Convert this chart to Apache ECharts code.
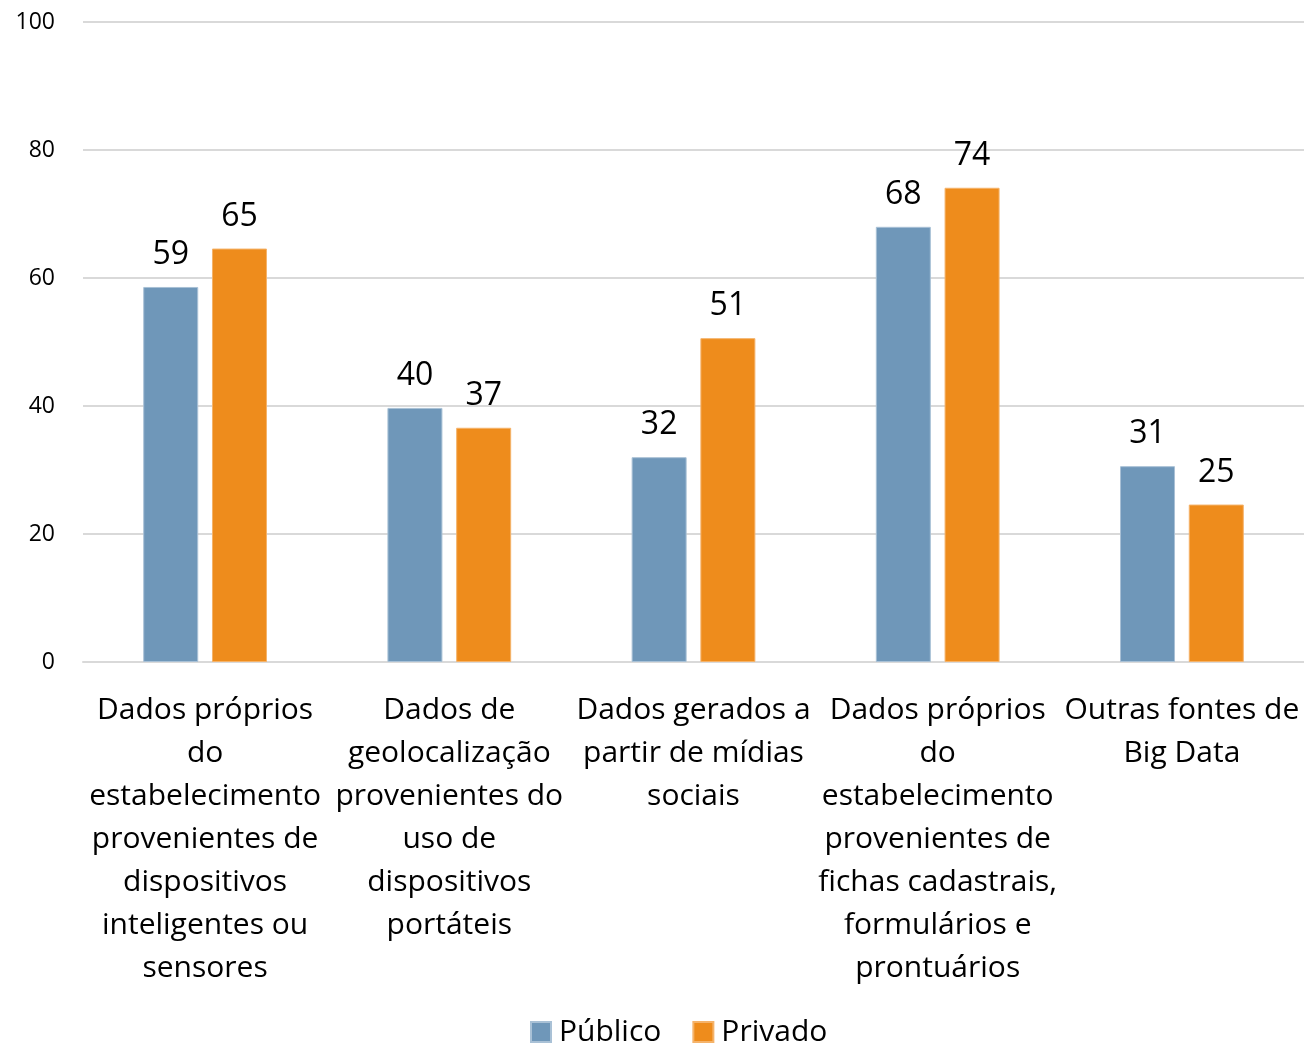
<!DOCTYPE html>
<html><head><meta charset="utf-8">
<script src="https://cdn.jsdelivr.net/npm/echarts@6/dist/echarts.min.js"></script>
<style>html,body{margin:0;padding:0;background:#fff}#c{width:1304px;height:1044px}</style>
</head><body><div id="c"></div>
<script>
const categories = [
  "Dados próprios\ndo\nestabelecimento\nprovenientes de\ndispositivos\ninteligentes ou\nsensores",
  "Dados de\ngeolocalização\nprovenientes do\nuso de\ndispositivos\nportáteis",
  "Dados gerados a\npartir de mídias\nsociais",
  "Dados próprios\ndo\nestabelecimento\nprovenientes de\nfichas cadastrais,\nformulários e\nprontuários",
  "Outras fontes de\nBig Data"
];
const publico = [58.6, 39.7, 32.0, 68.0, 30.6];
const privado = [64.6, 36.6, 50.6, 74.1, 24.6];
const seriesNames = ["Público", "Privado"];
const colors = ["#6f97b9", "#ee8c1c"];
const FONT = "'Open Sans', 'Noto Sans', sans-serif";

const chart = echarts.init(document.getElementById('c'), null, {renderer: 'canvas'});
const labelCfg = {
  show: true, position: 'top', distance: 16,
  fontSize: 32, fontFamily: FONT, color: '#000',
  formatter: p => Math.round(p.value)
};
chart.setOption({
  animation: false,
  color: colors,
  textStyle: {fontFamily: FONT},
  grid: {left: 83, width: 1226, top: 22, height: 640, containLabel: false},
  legend: {
    top: 1012, left: 525, itemWidth: 20, itemHeight: 20, itemGap: 31, icon: 'rect',
    textStyle: {fontSize: 30, fontFamily: FONT, color: '#000', padding: [0, 0, 0, 3]},
    data: seriesNames
  },
  xAxis: {
    type: 'category', data: categories,
    axisLine: {lineStyle: {color: '#d9d9d9', width: 2}},
    axisTick: {show: false},
    axisLabel: {interval: 0, fontSize: 30, lineHeight: 43, color: '#000', fontFamily: FONT, margin: 27, align: 'center'}
  },
  yAxis: {
    type: 'value', min: 0, max: 100, interval: 20,
    axisLine: {show: false}, axisTick: {show: false},
    splitLine: {lineStyle: {color: '#d9d9d9', width: 2}},
    axisLabel: {fontSize: 23, color: '#000', fontFamily: FONT, margin: 28}
  },
  series: [
    {name: seriesNames[0], type: 'bar', data: publico, barWidth: 55, barGap: '25%',
     itemStyle: {color: colors[0], borderColor: '#a9c1d6', borderWidth: 1}, label: labelCfg},
    {name: seriesNames[1], type: 'bar', data: privado, barWidth: 55,
     itemStyle: {color: colors[1], borderColor: '#f5b36a', borderWidth: 1}, label: labelCfg}
  ]
});
</script></body></html>
